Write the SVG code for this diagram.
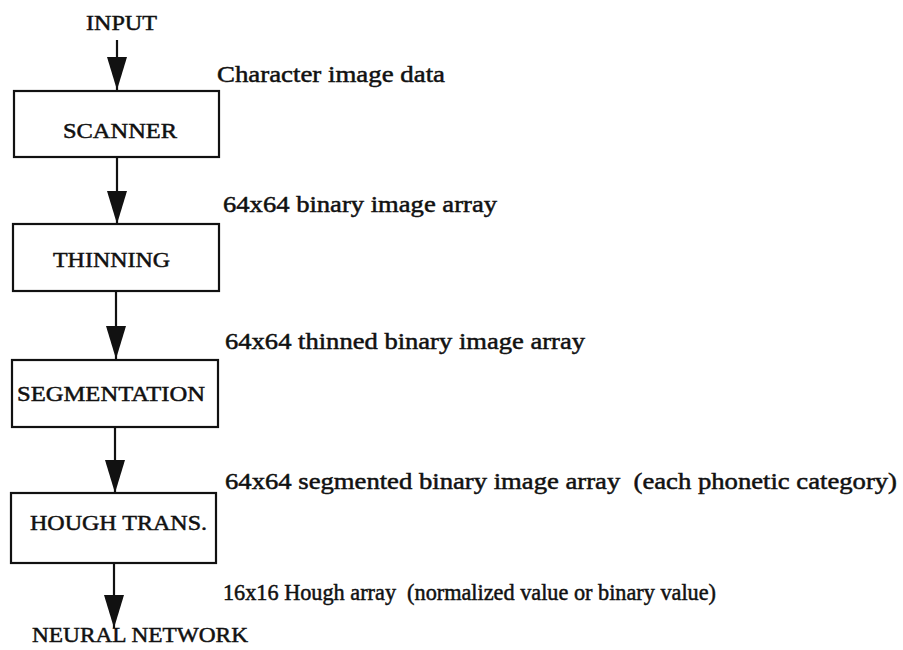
<svg xmlns="http://www.w3.org/2000/svg" width="903" height="650" viewBox="0 0 903 650">
<style>
text { font-family: "Liberation Serif", "Times New Roman", serif; fill: #111; stroke: #111; stroke-width: 0.5; }
.lbl { font-size: 23px; white-space: pre; }
.box { font-size: 22px; }
.node rect { fill: #fff; stroke: #111; stroke-width: 2.2; }
.conn line { stroke: #111; stroke-width: 2.2; marker-end: url(#ah); }
</style>
<defs>
<marker id="ah" viewBox="0 0 33 20" refX="33" refY="10" markerWidth="33" markerHeight="20" markerUnits="userSpaceOnUse" orient="auto">
<path d="M0,0 L33,10 L0,20 Z" fill="#111"/>
</marker>
</defs>
<rect width="903" height="650" fill="#fff"/>
<g id="connectors" class="conn">
<line x1="117" y1="40" x2="117" y2="90"/>
<line x1="117" y1="157" x2="117" y2="224"/>
<line x1="116" y1="291" x2="116" y2="359"/>
<line x1="115" y1="427" x2="115" y2="493"/>
<line x1="114" y1="563" x2="114" y2="628"/>
</g>
<g id="input"><text class="box" x="86" y="30" textLength="71" lengthAdjust="spacingAndGlyphs">INPUT</text></g>
<g id="scanner" class="node">
<rect x="14" y="91" width="205" height="66"/>
<text class="box" x="63" y="138" textLength="114" lengthAdjust="spacingAndGlyphs">SCANNER</text>
</g>
<g id="thinning" class="node">
<rect x="13" y="224" width="206" height="67"/>
<text class="box" x="53" y="267" textLength="117" lengthAdjust="spacingAndGlyphs">THINNING</text>
</g>
<g id="segmentation" class="node">
<rect x="12" y="360" width="206" height="67"/>
<text class="box" x="17" y="401" textLength="188" lengthAdjust="spacingAndGlyphs">SEGMENTATION</text>
</g>
<g id="hough" class="node">
<rect x="11" y="493" width="205" height="70"/>
<text class="box" x="30" y="530" textLength="177" lengthAdjust="spacingAndGlyphs">HOUGH TRANS.</text>
</g>
<g id="neural"><text class="box" x="32" y="642" textLength="216" lengthAdjust="spacingAndGlyphs">NEURAL NETWORK</text></g>
<g id="labels">
<text class="lbl" x="217" y="82" textLength="228" lengthAdjust="spacingAndGlyphs">Character image data</text>
<text class="lbl" x="223" y="212" textLength="274" lengthAdjust="spacingAndGlyphs">64x64 binary image array</text>
<text class="lbl" x="225" y="349" textLength="360" lengthAdjust="spacingAndGlyphs">64x64 thinned binary image array</text>
<text class="lbl" x="225" y="489" textLength="672" lengthAdjust="spacingAndGlyphs" xml:space="preserve">64x64 segmented binary image array  (each phonetic category)</text>
<text class="lbl" x="223" y="600" textLength="493" lengthAdjust="spacingAndGlyphs" xml:space="preserve">16x16 Hough array  (normalized value or binary value)</text>
</g>
</svg>
